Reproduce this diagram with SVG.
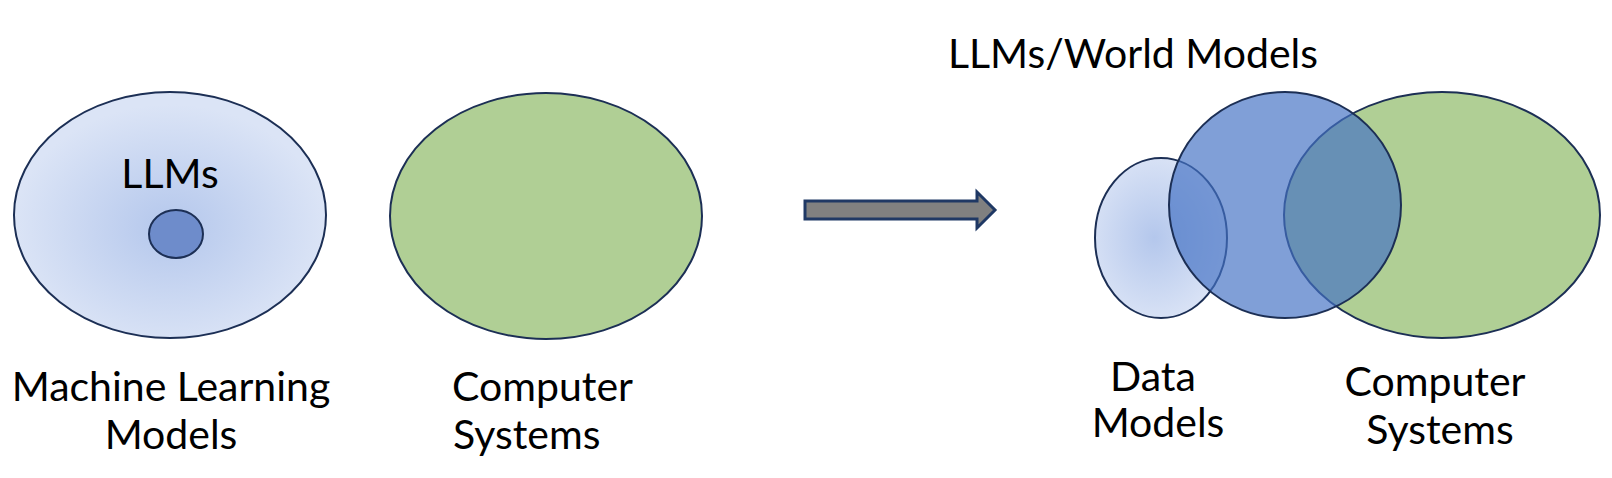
<svg xmlns="http://www.w3.org/2000/svg" width="1612" height="478" viewBox="0 0 1612 478">
<defs>
<radialGradient id="gBlue" cx="0.5" cy="0.55" r="0.5">
<stop offset="0" stop-color="#b4c7ec"/>
<stop offset="1" stop-color="#dbe4f6"/>
</radialGradient>
<radialGradient id="gData" cx="0.45" cy="0.5" r="0.55">
<stop offset="0" stop-color="#b4c7ec"/>
<stop offset="1" stop-color="#dbe4f6"/>
</radialGradient>
<style>
.shape{stroke:#1c2f55;stroke-width:2}
.lbl{font-family:Lato,"Open Sans","Liberation Sans",sans-serif;font-size:41px;fill:#000}
.c{text-anchor:middle}
</style>
</defs>
<rect width="1612" height="478" fill="#ffffff"/>
<g id="ml-models">
<ellipse class="shape" cx="170" cy="215" rx="156" ry="123" fill="url(#gBlue)"/>
<text class="lbl c" x="170" y="188">LLMs</text>
<text class="lbl c" x="171" y="401">Machine Learning</text>
<text class="lbl c" x="171" y="449">Models</text>
</g>
<g id="llms-inner">
<ellipse class="shape" cx="176" cy="234" rx="27" ry="24" fill="#6e8ccb"/>
</g>
<g id="computer-systems-left">
<ellipse class="shape" cx="546" cy="216" rx="156" ry="123" fill="#b0cf95"/>
<text class="lbl" x="452" y="401">Computer</text>
<text class="lbl" x="453" y="449">Systems</text>
</g>
<g id="connectors">
<path d="M805,201 H977 V192 L995,210 L977,228 V219 H805 Z" fill="#808080" stroke="#1f3864" stroke-width="3" stroke-linejoin="miter"/>
</g>
<g id="data-models">
<ellipse class="shape" cx="1161" cy="238" rx="66" ry="80" fill="url(#gData)"/>
<text class="lbl c" x="1153" y="391">Data</text>
<text class="lbl c" x="1158" y="437">Models</text>
</g>
<g id="computer-systems-right">
<ellipse class="shape" cx="1442" cy="215" rx="158" ry="123" fill="#b0cf95"/>
<text class="lbl c" x="1435" y="396">Computer</text>
<text class="lbl c" x="1440" y="444">Systems</text>
</g>
<g id="llms-world-models">
<ellipse class="shape" cx="1285" cy="205" rx="116" ry="113" fill="#4472c4" fill-opacity="0.68"/>
<text class="lbl c" x="1133" y="68">LLMs/World Models</text>
</g>
</svg>
